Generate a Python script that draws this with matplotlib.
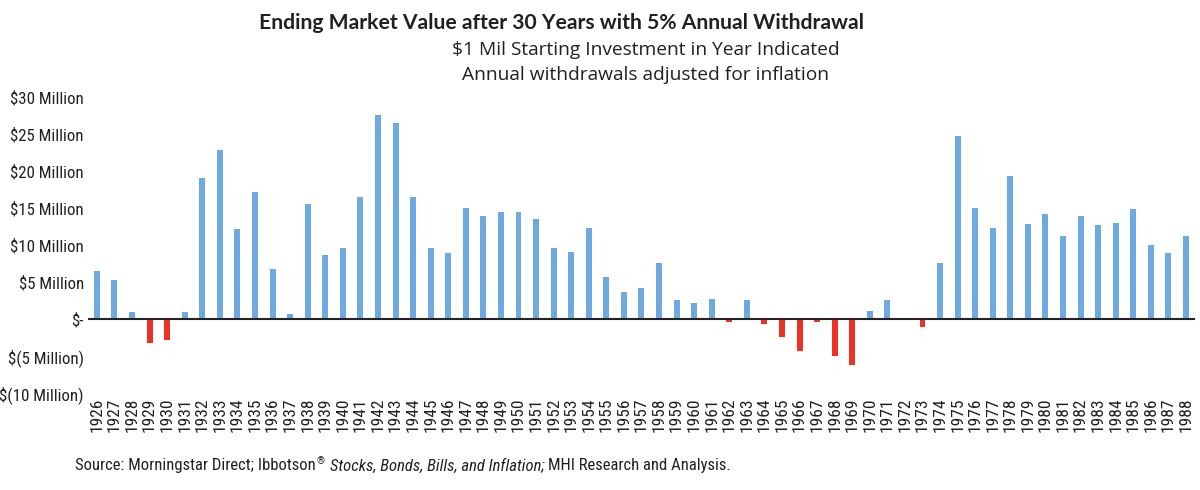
import matplotlib.pyplot as plt
from matplotlib import font_manager
import numpy as np

# ending market value (millions) by starting year
years = list(range(1926, 1989))
values = [
    6.5, 5.4, 1.0, -3.2, -2.8, 1.0, 19.1, 22.9, 12.2, 17.2,
    6.8, 0.8, 15.6, 8.7, 9.6, 16.6, 27.7, 26.6, 16.6, 9.6,
    9.0, 15.1, 14.0, 14.5, 14.5, 13.6, 9.6, 9.1, 12.4, 5.7,
    3.7, 4.2, 7.6, 2.6, 2.2, 2.8, -0.4, 2.6, -0.6, -2.4,
    -4.3, -0.3, -4.9, -6.2, 1.15, 2.7, 0.2, -1.0, 7.6, 24.8,
    15.1, 12.4, 19.4, 12.9, 14.2, 11.3, 14.0, 12.8, 13.1, 14.9,
    10.1, 9.0, 11.3,
]
ytick_values = [-10, -5, 0, 5, 10, 15, 20, 25, 30]
ytick_labels = ["$(10 Million)", "$(5 Million)", "$-", "$5 Million",
                "$10 Million", "$15 Million", "$20 Million",
                "$25 Million", "$30 Million"]

title = "Ending Market Value after 30 Years with 5% Annual Withdrawal"
subtitle = "$1 Mil Starting Investment in Year Indicated\nAnnual withdrawals adjusted for inflation"

BLUE = "#6EAADF"
RED = "#EE3124"
INK = "#231F20"


def narrow_font():
    """pick a condensed face if one is installed"""
    fonts = font_manager.fontManager.ttflist
    names = {f.name for f in fonts}
    for name in ["Liberation Sans Narrow", "Roboto Condensed",
                 "Open Sans Condensed", "Arial Narrow"]:
        if name in names:
            return dict(family=[name, "DejaVu Sans"]), 1.0
    if any(f.name == "DejaVu Sans" and f.stretch == "condensed" for f in fonts):
        return dict(family=["DejaVu Sans"], stretch="condensed"), 0.95
    return dict(family=["DejaVu Sans"]), 0.87


nf, k = narrow_font()

fig = plt.figure(figsize=(12, 4.9), dpi=100)
ax = fig.add_axes([0.0733, 0.197, 0.9225, 0.604])

x = np.arange(len(years))
colors = [BLUE if v >= 0 else RED for v in values]
ax.bar(x, values, width=0.34, color=colors, edgecolor="none", zorder=2)
ax.axhline(0, color="#222222", linewidth=1.5, zorder=3)

ax.set_xlim(-0.51, len(years) - 0.49)
ax.set_ylim(-10, 30)
ax.set_yticks(ytick_values)
ax.set_yticklabels(ytick_labels, fontsize=12.2 * k, color=INK, **nf)
ax.set_xticks(x)
ax.set_xticklabels([str(y) for y in years], rotation=90,
                   fontsize=12.5 * k, color=INK, **nf)
ax.tick_params(axis="both", length=0)
ax.tick_params(axis="y", pad=3)
ax.tick_params(axis="x", pad=3)
for s in ax.spines.values():
    s.set_visible(False)

fig.text(0.468, 0.953, title, ha="center", va="center", fontsize=15.2,
         fontweight="bold", family=["Lato", "DejaVu Sans"], color=INK)
fig.text(0.538, 0.872, subtitle, ha="center", va="center", fontsize=13.8,
         family=["Open Sans", "DejaVu Sans"], color=INK, linespacing=1.5)

# source line built from pieces: regular, small raised (R), italic, regular
fs = 12 * k
renderer = fig.canvas.get_renderer()
W = fig.bbox.width
sy = 0.049


def right_edge(t):
    return t.get_window_extent(renderer).x1 / W


t = fig.text(0.0625, sy, "Source: Morningstar Direct; Ibbotson",
             ha="left", va="center", fontsize=fs, color=INK, **nf)
t = fig.text(right_edge(t) + 0.001, sy + 0.01, "\u00ae", ha="left",
             va="center", fontsize=fs * 0.6, color=INK, **nf)
t = fig.text(right_edge(t) + 0.004, sy, "Stocks, Bonds, Bills, and Inflation;",
             ha="left", va="center", fontsize=fs, style="italic", color=INK, **nf)
fig.text(right_edge(t) + 0.003, sy, "MHI Research and Analysis.", ha="left",
         va="center", fontsize=fs, color=INK, **nf)

fig.savefig("out.png", dpi=100)
